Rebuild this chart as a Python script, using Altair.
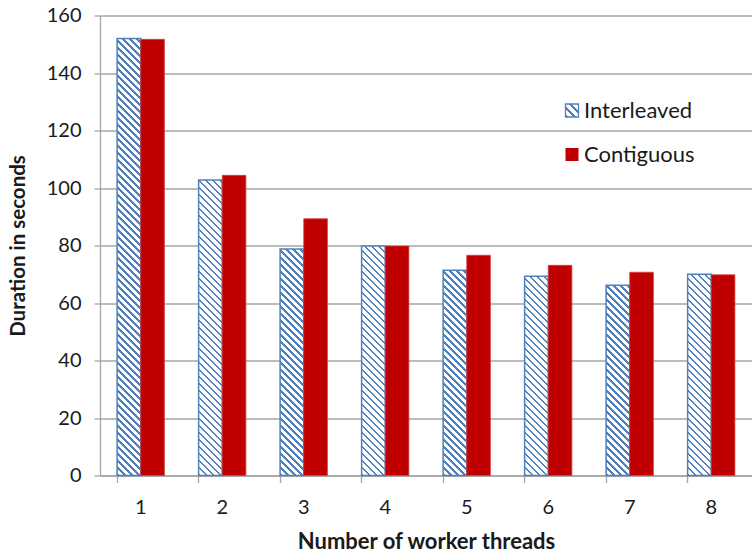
import math
import altair as alt
import pandas as pd

threads = [1, 2, 3, 4, 5, 6, 7, 8]
interleaved = [152.0, 102.8, 78.8, 79.8, 71.4, 69.3, 66.2, 70.0]
contiguous = [151.7, 104.4, 89.3, 79.8, 76.6, 73.1, 70.7, 69.8]
series = ["Interleaved", "Contiguous"]
y_ticks = [0, 20, 40, 60, 80, 100, 120, 140, 160]

rows = []
for t, a, b in zip(threads, interleaved, contiguous):
    rows.append({"threads": t, "series": "Interleaved", "value": a})
    rows.append({"threads": t, "series": "Contiguous", "value": b})
df = pd.DataFrame(rows)

W, H = 652, 460
YMAX = 160
BLUE = "#4f81bd"
RED = "#c00000"
GRID = "#a6a6a6"
TXT = "#1a1a1a"
FONT = "Lato"

# bar pixel width from the band layout (used only to shape the hatch gradient)
P_IN, P_OUT = 0.42, 0.21
step = W / (len(threads) - P_IN + 2 * P_OUT)
bar_w = step * (1 - P_IN) / 2


def hatch(w, h, period=7.0, frac=0.4):
    """Diagonal '\\' hatch as a hard-stop linear gradient in bounding-box units."""
    total = w + h
    c = total / (w * w + h * h)
    stops = []
    k = 0
    while k * period < total:
        a = k * period / total
        b = min((k * period + period * frac) / total, 1.0)
        e = min((k + 1) * period / total, 1.0)
        stops += [
            alt.GradientStop(offset=a, color=BLUE),
            alt.GradientStop(offset=b, color=BLUE),
            alt.GradientStop(offset=b, color="white"),
            alt.GradientStop(offset=e, color="white"),
        ]
        k += 1
    return alt.Gradient(gradient="linear", stops=stops,
                        x1=0, y1=1, x2=c * w, y2=1 - c * h)


x_enc = alt.X(
    "threads:O",
    scale=alt.Scale(domain=threads, paddingInner=P_IN, paddingOuter=P_OUT),
    axis=alt.Axis(
        title="Number of worker threads", titleFont=FONT, titleFontSize=22,
        titleFontWeight="bold", titleColor=TXT, titleY=65.5, titleBaseline="middle",
        labelFont=FONT, labelFontSize=20, labelColor=TXT, labelAngle=0,
        labelPadding=15, tickSize=7, tickColor=GRID, domainColor=GRID,
        tickWidth=1.3, domainWidth=1.3, bandPosition=0, grid=False,
    ),
)
xo_enc = alt.XOffset("series:N", scale=alt.Scale(domain=series))
y_enc = alt.Y(
    "value:Q",
    scale=alt.Scale(domain=[0, YMAX], nice=False),
    axis=alt.Axis(
        values=y_ticks, title="Duration in seconds", titleFont=FONT,
        titleFontSize=20.5, titleFontWeight="bold", titleColor=TXT,
        titleX=-82, titleBaseline="middle",
        labelFont=FONT, labelFontSize=20, labelColor=TXT, labelPadding=13,
        tickSize=6, tickColor=GRID, domainColor=GRID, tickWidth=1.3,
        domainWidth=1.3, grid=True, gridColor=GRID, gridWidth=1.3,
    ),
)

base = alt.Chart(df)
layers = []
for t, v in zip(threads, interleaved):
    h = v / YMAX * H
    layers.append(
        base.transform_filter(
            (alt.datum.threads == t) & (alt.datum.series == "Interleaved")
        ).mark_bar(fill=hatch(bar_w, h), stroke=BLUE, strokeWidth=1.5)
        .encode(x=x_enc, xOffset=xo_enc, y=y_enc)
    )
layers.append(
    base.transform_filter(alt.datum.series == "Contiguous")
    .mark_bar(fill=RED, stroke="#d24040", strokeWidth=0.8)
    .encode(x=x_enc, xOffset=xo_enc, y=y_enc)
)

# legend (drawn manually so the hatched swatch can be shown)
leg = pd.DataFrame({"label": series})
sym_size = 13
leg_i = alt.Chart(leg).transform_filter(alt.datum.label == "Interleaved")
leg_c = alt.Chart(leg).transform_filter(alt.datum.label == "Contiguous")
layers += [
    leg_i.mark_square(size=sym_size * sym_size, fill=hatch(sym_size, sym_size, period=8, frac=0.35),
                      stroke=BLUE, strokeWidth=1.3, opacity=1)
    .encode(x=alt.value(472), y=alt.value(95)),
    leg_c.mark_square(size=sym_size * sym_size, fill=RED, opacity=1)
    .encode(x=alt.value(472), y=alt.value(139)),
    leg_i.mark_text(align="left", baseline="middle", font=FONT, fontSize=22, color=TXT)
    .encode(x=alt.value(484), y=alt.value(95), text="label:N"),
    leg_c.mark_text(align="left", baseline="middle", font=FONT, fontSize=22, color=TXT)
    .encode(x=alt.value(484), y=alt.value(139), text="label:N"),
]

chart = alt.layer(*layers).properties(
    width=W, height=H,
    autosize=alt.AutoSizeParams(type="none"),
    padding={"left": 100, "top": 15.5, "right": 0, "bottom": 82.5},
    background="white",
).configure_view(stroke=None)

chart.save("out.html", embed_options={"renderer": "svg", "actions": False})
